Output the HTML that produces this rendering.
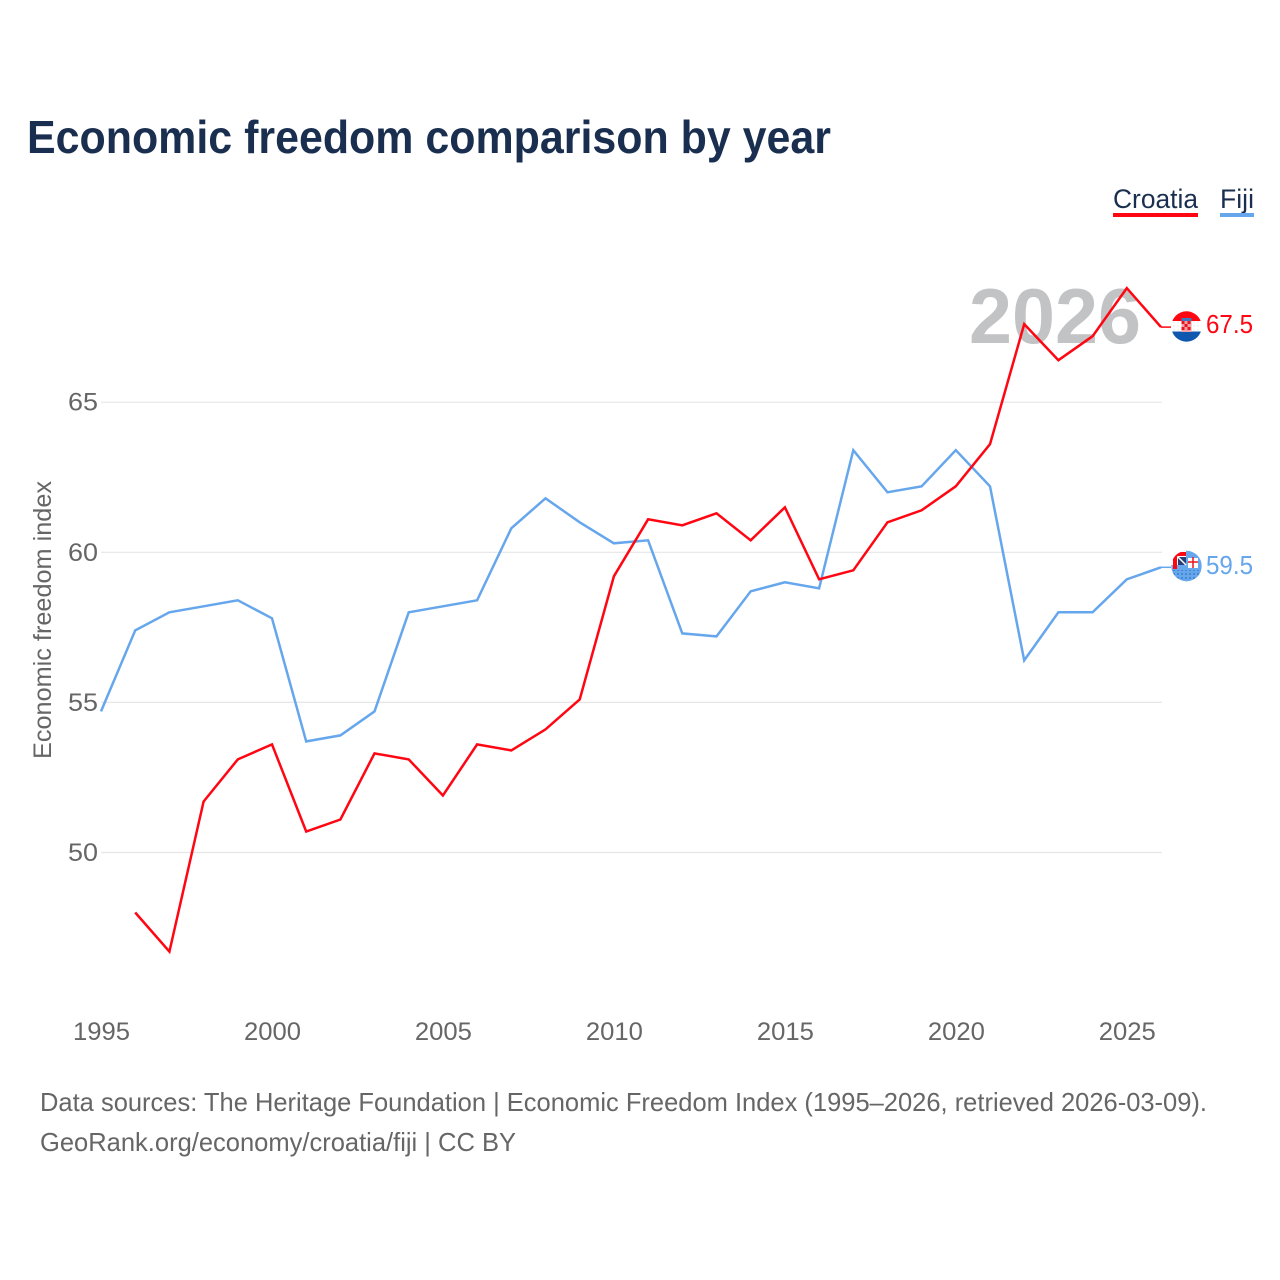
<!DOCTYPE html>
<html lang="en">
<head>
<meta charset="utf-8">
<title>Economic freedom comparison by year</title>
<style>
html,body{margin:0;padding:0;background:#fff;}
svg{display:block;font-family:"Liberation Sans",sans-serif;}
</style>
</head>
<body>
<svg id="chart" width="1280" height="1280" viewBox="0 0 1280 1280" xmlns="http://www.w3.org/2000/svg">
<defs>
<clipPath id="flag-clip-hr"><circle cx="1186.5" cy="326.5" r="15.2"/></clipPath>
<clipPath id="flag-clip-fj"><circle cx="1186.5" cy="566" r="15.2"/></clipPath>
<pattern id="fiji-dots" width="4" height="4" patternUnits="userSpaceOnUse"><rect width="4" height="4" fill="#66a6ec"/><circle cx="2" cy="2" r="1" fill="#3f7fc9"/></pattern>
<pattern id="white-dots" width="4" height="4" patternUnits="userSpaceOnUse"><rect width="4" height="4" fill="#fff"/><circle cx="2" cy="2" r=".7" fill="#e4e4e4"/></pattern>
</defs>
<text x="27" y="153" font-size="46" font-weight="700" fill="#1a2f4f" textLength="804" lengthAdjust="spacingAndGlyphs">Economic freedom comparison by year</text>

<g>
<g>
<text x="1113" y="208" font-size="27" fill="#1a2f4f" textLength="85" lengthAdjust="spacingAndGlyphs">Croatia</text>
<rect x="1113" y="213" width="85" height="4" fill="#ff0612"/>
</g>
<g>
<text x="1220" y="208" font-size="27" fill="#1a2f4f" textLength="34" lengthAdjust="spacingAndGlyphs">Fiji</text>
<rect x="1220" y="213" width="34" height="4" fill="#66a6ec"/>
</g>
</g>

<text x="969" y="343" font-size="78" font-weight="700" fill="#c2c3c5" textLength="172" lengthAdjust="spacingAndGlyphs">2026</text>

<g id="grid"></g>
<g id="y-ticks"></g>
<g id="x-ticks"></g>
<text transform="translate(51,759) rotate(-90)" font-size="25" fill="#666" textLength="278" lengthAdjust="spacingAndGlyphs">Economic freedom index</text>
<g id="series"></g>

<g clip-path="url(#flag-clip-hr)">
<rect x="1171" y="311" width="31" height="10" fill="#ff0612"/>
<rect x="1171" y="321" width="31" height="10.5" fill="url(#white-dots)"/>
<rect x="1171" y="331.5" width="31" height="10.5" fill="#0f58b0"/>
<rect x="1181.5" y="318" width="10" height="3" fill="#3f78c0"/>
<rect x="1181.5" y="321" width="10" height="11" fill="#f4a0a4"/>
<path d="M1181.5 321h3v3h-3zM1187.5 321h3v3h-3zM1184.5 324h3v3h-3zM1181.5 327h3v3h-3zM1187.5 327h3v3h-3z" fill="#e8141e"/>
</g>
<g clip-path="url(#flag-clip-fj)">
<rect x="1171" y="550" width="31" height="32" fill="#66a6ec"/>
<rect x="1171" y="570" width="31" height="12" fill="url(#fiji-dots)"/>
<rect x="1171" y="550" width="15" height="15" fill="#fff"/>
<path d="M1173 569v-13q0-4 4-4h9v4h-8q-1 0-1 1v12z" fill="#ff0612"/>
<path d="M1178 557h8v8h-8z" fill="#27407a"/>
<path d="M1178 557l8 8" stroke="#fff" stroke-width="1.5"/>
<rect x="1188" y="558" width="10" height="10" fill="#fff"/>
<path d="M1193 557v11M1188 562h10" stroke="#e8141e" stroke-width="1.5"/>
</g>
<text x="1206" y="333" font-size="26" fill="#ff0612" textLength="47" lengthAdjust="spacingAndGlyphs">67.5</text>
<text x="1206" y="574" font-size="26" fill="#66a6ec" textLength="47" lengthAdjust="spacingAndGlyphs">59.5</text>

<g>
<text x="40" y="1111" font-size="26" fill="#666" textLength="1167" lengthAdjust="spacingAndGlyphs">Data sources: The Heritage Foundation | Economic Freedom Index (1995–2026, retrieved 2026-03-09).</text>
<text x="40" y="1151" font-size="26" fill="#666" textLength="476" lengthAdjust="spacingAndGlyphs">GeoRank.org/economy/croatia/fiji | CC BY</text>
</g>
</svg>
<script>
const years = [1995,1996,1997,1998,1999,2000,2001,2002,2003,2004,2005,2006,2007,2008,2009,2010,2011,2012,2013,2014,2015,2016,2017,2018,2019,2020,2021,2022,2023,2024,2025,2026];
const croatiaValues = [null,48.0,46.7,51.7,53.1,53.6,50.7,51.1,53.3,53.1,51.9,53.6,53.4,54.1,55.1,59.2,61.1,60.9,61.3,60.4,61.5,59.1,59.4,61.0,61.4,62.2,63.6,67.6,66.4,67.2,68.8,67.5];
const fijiValues = [54.7,57.4,58.0,58.2,58.4,57.8,53.7,53.9,54.7,58.0,58.2,58.4,60.8,61.8,61.0,60.3,60.4,57.3,57.2,58.7,59.0,58.8,63.4,62.0,62.2,63.4,62.2,56.4,58.0,58.0,59.1,59.5];
const yTickValues = [50,55,60,65];
const xTickValues = [1995,2000,2005,2010,2015,2020,2025];

const NS = 'http://www.w3.org/2000/svg';
function xScale(year){ return 101 + (year - 1995) * (1161 - 101) / 31; }
function yScale(v){ return 852.5 - (v - 50) * (852.5 - 402.2) / 15; }

const gridGroup = document.getElementById('grid');
const yGroup = document.getElementById('y-ticks');
yTickValues.forEach(function(v){
  const line = document.createElementNS(NS,'line');
  
  
  line.setAttribute('x1', 101);
  line.setAttribute('x2', 1162);
  line.setAttribute('y1', yScale(v));
  line.setAttribute('y2', yScale(v));
  line.setAttribute('stroke', '#e6e6e6');
  line.setAttribute('stroke-width', '1.2');
  gridGroup.appendChild(line);
  const t = document.createElementNS(NS,'text');
  
  
  t.setAttribute('x', 68);
  t.setAttribute('y', yScale(v) + 8.5);
  t.setAttribute('font-size', '25');
  t.setAttribute('fill', '#666');
  t.setAttribute('textLength', '30');
  t.setAttribute('lengthAdjust', 'spacingAndGlyphs');
  t.textContent = v;
  yGroup.appendChild(t);
});

const xGroup = document.getElementById('x-ticks');
xTickValues.forEach(function(y){
  const t = document.createElementNS(NS,'text');
  
  
  t.setAttribute('x', xScale(y) - 28);
  t.setAttribute('y', 1040);
  t.setAttribute('font-size', '25');
  t.setAttribute('fill', '#666');
  t.setAttribute('textLength', '57');
  t.setAttribute('lengthAdjust', 'spacingAndGlyphs');
  t.textContent = y;
  xGroup.appendChild(t);
});

function pathFor(values){
  let d = '';
  values.forEach(function(v,i){
    if (v === null) return;
    d += (d ? 'L' : 'M') + xScale(years[i]).toFixed(1) + ' ' + yScale(v).toFixed(1);
  });
  return d;
}
function leaderFor(values){
  const last = values[values.length - 1];
  return 'M' + xScale(years[years.length - 1]).toFixed(1) + ' ' + yScale(last).toFixed(1) + 'H1171';
}
const seriesGroup = document.getElementById('series');
const fijiLine = document.createElementNS(NS,'path');


fijiLine.setAttribute('d', pathFor(fijiValues));
fijiLine.setAttribute('fill', 'none');
fijiLine.setAttribute('stroke', '#66a6ec');
fijiLine.setAttribute('stroke-width', '2.5');
seriesGroup.appendChild(fijiLine);
const fijiLeader = document.createElementNS(NS,'path');


fijiLeader.setAttribute('d', leaderFor(fijiValues));
fijiLeader.setAttribute('fill', 'none');
fijiLeader.setAttribute('stroke', '#66a6ec');
fijiLeader.setAttribute('stroke-width', '1.5');
seriesGroup.appendChild(fijiLeader);
const croatiaLine = document.createElementNS(NS,'path');


croatiaLine.setAttribute('d', pathFor(croatiaValues));
croatiaLine.setAttribute('fill', 'none');
croatiaLine.setAttribute('stroke', '#ff0612');
croatiaLine.setAttribute('stroke-width', '2.5');
seriesGroup.appendChild(croatiaLine);
const croatiaLeader = document.createElementNS(NS,'path');


croatiaLeader.setAttribute('d', leaderFor(croatiaValues));
croatiaLeader.setAttribute('fill', 'none');
croatiaLeader.setAttribute('stroke', '#ff0612');
croatiaLeader.setAttribute('stroke-width', '1.5');
seriesGroup.appendChild(croatiaLeader);
</script>
</body>
</html>
